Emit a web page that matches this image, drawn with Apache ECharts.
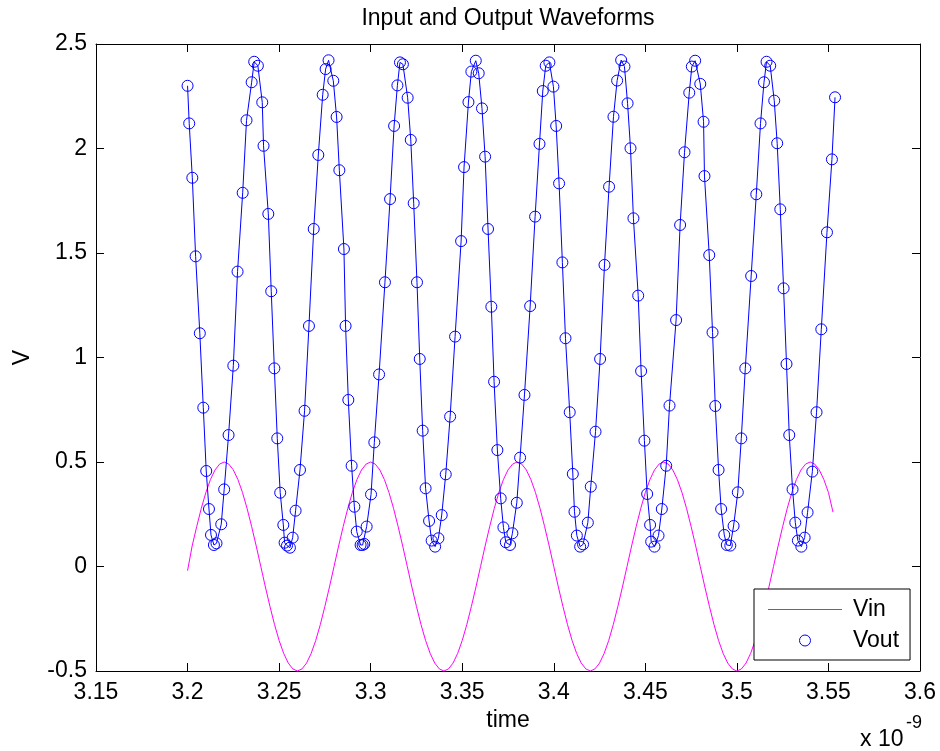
<!DOCTYPE html>
<html>
<head>
<meta charset="utf-8">
<script src="https://cdn.jsdelivr.net/npm/echarts@6/dist/echarts.min.js"></script>
<style>
html,body{margin:0;padding:0;background:#fff;}
#chart{width:940px;height:751px;}
</style>
</head>
<body>
<div id="chart"></div>
<script>
// ---- data (time in units of 1e-9 s, voltages in V) ----
const xTicks = { min: 3.15, max: 3.6, step: 0.05 };
const yTicks = { min: -0.5, max: 2.5, step: 0.5 };

const vinTime = [
  3.2000,3.2025,3.2050,3.2075,3.2100,3.2125,3.2150,3.2175,3.2200,3.2225,3.2250,3.2275,3.2300,3.2325,3.2350,3.2375,
  3.2400,3.2425,3.2450,3.2475,3.2500,3.2525,3.2550,3.2575,3.2600,3.2625,3.2650,3.2675,3.2700,3.2725,3.2750,3.2775,
  3.2800,3.2825,3.2850,3.2875,3.2900,3.2925,3.2950,3.2975,3.3000,3.3025,3.3050,3.3075,3.3100,3.3125,3.3150,3.3175,
  3.3200,3.3225,3.3250,3.3275,3.3300,3.3325,3.3350,3.3375,3.3400,3.3425,3.3450,3.3475,3.3500,3.3525,3.3550,3.3575,
  3.3600,3.3625,3.3650,3.3675,3.3700,3.3725,3.3750,3.3775,3.3800,3.3825,3.3850,3.3875,3.3900,3.3925,3.3950,3.3975,
  3.4000,3.4025,3.4050,3.4075,3.4100,3.4125,3.4150,3.4175,3.4200,3.4225,3.4250,3.4275,3.4300,3.4325,3.4350,3.4375,
  3.4400,3.4425,3.4450,3.4475,3.4500,3.4525,3.4550,3.4575,3.4600,3.4625,3.4650,3.4675,3.4700,3.4725,3.4750,3.4775,
  3.4800,3.4825,3.4850,3.4875,3.4900,3.4925,3.4950,3.4975,3.5000,3.5025,3.5050,3.5075,3.5100,3.5125,3.5150,3.5175,
  3.5200,3.5225,3.5250,3.5275,3.5300,3.5325,3.5350,3.5375,3.5400,3.5425,3.5450,3.5475,3.5500,3.5525
];
const vinValues = [
  -0.02,0.098,0.191,0.278,0.354,0.416,0.462,0.490,0.500,0.490,0.462,0.416,0.354,0.278,0.191,0.098,
  0.000,-0.098,-0.191,-0.278,-0.354,-0.416,-0.462,-0.490,-0.500,-0.490,-0.462,-0.416,-0.354,-0.278,-0.191,-0.098,
  0.000,0.098,0.191,0.278,0.354,0.416,0.462,0.490,0.500,0.490,0.462,0.416,0.354,0.278,0.191,0.098,
  0.000,-0.098,-0.191,-0.278,-0.354,-0.416,-0.462,-0.490,-0.500,-0.490,-0.462,-0.416,-0.354,-0.278,-0.191,-0.098,
  0.000,0.098,0.191,0.278,0.354,0.416,0.462,0.490,0.500,0.490,0.462,0.416,0.354,0.278,0.191,0.098,
  0.000,-0.098,-0.191,-0.278,-0.354,-0.416,-0.462,-0.490,-0.500,-0.490,-0.462,-0.416,-0.354,-0.278,-0.191,-0.098,
  0.000,0.098,0.191,0.278,0.354,0.416,0.462,0.490,0.500,0.490,0.462,0.416,0.354,0.278,0.191,0.098,
  0.000,-0.098,-0.191,-0.278,-0.354,-0.416,-0.462,-0.490,-0.500,-0.490,-0.462,-0.416,-0.354,-0.278,-0.191,-0.098,
  0.000,0.098,0.191,0.278,0.354,0.416,0.462,0.490,0.500,0.490,0.462,0.416,0.354,0.260
];

const voutTime = [
  3.2000,3.2009,3.2026,3.2044,3.2067,3.2086,3.2102,3.2117,3.2128,3.2144,3.2158,3.2184,3.2200,3.2224,3.2250,3.2273,
  3.2301,3.2322,3.2350,3.2364,3.2384,3.2408,3.2415,3.2441,3.2457,3.2474,3.2490,3.2506,3.2523,3.2530,3.2543,3.2559,
  3.2574,3.2590,3.2614,3.2639,3.2663,3.2689,3.2714,3.2738,3.2754,3.2770,3.2796,3.2814,3.2829,3.2854,3.2863,3.2878,
  3.2896,3.2911,3.2924,3.2945,3.2956,3.2965,3.2978,3.3002,3.3020,3.3046,3.3078,3.3106,3.3128,3.3146,3.3160,3.3176,
  3.3202,3.3219,3.3235,3.3253,3.3268,3.3284,3.3300,3.3319,3.3333,3.3352,3.3370,3.3388,3.3410,3.3434,3.3461,3.3494,
  3.3510,3.3534,3.3550,3.3574,3.3590,3.3608,3.3625,3.3641,3.3659,3.3674,3.3692,3.3710,3.3725,3.3738,3.3761,3.3774,
  3.3798,3.3816,3.3840,3.3871,3.3898,3.3922,3.3940,3.3956,3.3976,3.3998,3.4013,3.4029,3.4047,3.4064,3.4087,3.4104,
  3.4113,3.4126,3.4144,3.4160,3.4186,3.4202,3.4228,3.4253,3.4277,3.4302,3.4326,3.4346,3.4368,3.4386,3.4403,3.4419,
  3.4435,3.4461,3.4477,3.4495,3.4510,3.4526,3.4532,3.4550,3.4572,3.4590,3.4614,3.4632,3.4668,3.4690,3.4714,3.4740,
  3.4754,3.4772,3.4800,3.4818,3.4823,3.4849,3.4867,3.4882,3.4900,3.4914,3.4931,3.4945,3.4964,3.4982,3.5005,3.5024,
  3.5046,3.5078,3.5106,3.5129,3.5148,3.5162,3.5182,3.5204,3.5220,3.5237,3.5255,3.5271,3.5286,3.5304,3.5319,3.5333,
  3.5352,3.5370,3.5386,3.5412,3.5435,3.5461,3.5492,3.5519,3.5536
];
const voutValues = [
  2.300,2.120,1.860,1.484,1.116,0.760,0.457,0.275,0.151,0.103,0.111,0.202,0.369,0.629,0.961,1.411,
  1.788,2.135,2.317,2.415,2.396,2.221,2.013,1.687,1.317,0.948,0.613,0.353,0.199,0.114,0.100,0.090,
  0.138,0.267,0.462,0.745,1.151,1.615,1.969,2.257,2.380,2.422,2.324,2.151,1.896,1.519,1.151,0.797,
  0.482,0.286,0.167,0.103,0.103,0.108,0.191,0.345,0.594,0.919,1.360,1.758,2.108,2.302,2.412,2.403,
  2.243,2.041,1.738,1.360,0.993,0.650,0.374,0.218,0.124,0.095,0.135,0.246,0.441,0.717,1.100,1.557,
  1.911,2.222,2.368,2.420,2.360,2.192,1.961,1.615,1.243,0.884,0.557,0.326,0.187,0.116,0.103,0.159,
  0.305,0.521,0.821,1.246,1.674,2.022,2.275,2.396,2.412,2.296,2.108,1.833,1.455,1.092,0.738,0.443,
  0.262,0.148,0.095,0.106,0.210,0.382,0.645,0.993,1.443,1.817,2.152,2.325,2.423,2.392,2.216,2.001,
  1.666,1.296,0.935,0.602,0.347,0.199,0.119,0.095,0.148,0.275,0.482,0.770,1.179,1.634,1.982,2.267,
  2.392,2.420,2.309,2.128,1.868,1.490,1.120,0.768,0.462,0.275,0.151,0.103,0.100,0.194,0.355,0.613,
  0.948,1.390,1.781,2.120,2.317,2.415,2.396,2.229,2.025,1.709,1.331,0.969,0.629,0.369,0.210,0.124,
  0.095,0.138,0.259,0.454,0.738,1.135,1.599,1.948,2.245
];

const titleText = 'Input and Output Waveforms';
const xName = 'time';
const yName = 'V';
const names = ['Vin', 'Vout'];

// ---- chart ----
const FONT = '"Liberation Sans", Arial, Helvetica, sans-serif';
const FS = 23;
const zip = (a, b) => a.map((t, i) => [t, b[i]]);
const fmt = v => String(Math.round(v * 100) / 100);

const axisCommon = {
  type: 'value',
  axisLine: { show: true, onZero: false, lineStyle: { color: '#000', width: 1 } },
  axisTick: { show: true, inside: true, length: 8, lineStyle: { color: '#000', width: 1 } },
  splitLine: { show: false }
};

const chart = echarts.init(document.getElementById('chart'), null, { renderer: 'canvas' });
chart.setOption({
  animation: false,
  backgroundColor: '#fff',
  grid: { left: 96, right: 20, top: 44, bottom: 80, containLabel: false },
  xAxis: [
    Object.assign({}, axisCommon, {
      min: xTicks.min, max: xTicks.max, interval: xTicks.step, position: 'bottom',
      axisLabel: { color: '#000', fontSize: FS, fontFamily: FONT, margin: 10, formatter: fmt },
      name: xName, nameLocation: 'middle', nameGap: 38,
      nameTextStyle: { color: '#000', fontSize: FS, fontFamily: FONT }
    }),
    Object.assign({}, axisCommon, {
      min: xTicks.min, max: xTicks.max, interval: xTicks.step, position: 'top',
      axisLabel: { show: false }
    })
  ],
  yAxis: [
    Object.assign({}, axisCommon, {
      min: yTicks.min, max: yTicks.max, interval: yTicks.step, position: 'left',
      axisLabel: { color: '#000', fontSize: FS, fontFamily: FONT, margin: 9, formatter: fmt },
      name: yName, nameLocation: 'middle', nameGap: 62, nameRotate: 90,
      nameTextStyle: { color: '#000', fontSize: FS, fontFamily: FONT }
    }),
    Object.assign({}, axisCommon, {
      min: yTicks.min, max: yTicks.max, interval: yTicks.step, position: 'right',
      axisLabel: { show: false }
    })
  ],
  legend: {
    orient: 'vertical', left: 754, top: 589,
    padding: [9, 11, 8, 14], itemGap: 8, itemWidth: 74, itemHeight: 11,
    backgroundColor: '#fff', borderColor: '#000', borderWidth: 1, borderRadius: 0,
    selectedMode: false,
    textStyle: { color: '#000', fontSize: FS, fontFamily: FONT, padding: [0, 0, 0, 6] },
    data: [
      { name: names[0], icon: 'path://M0 0H74V1H0Z',
        itemStyle: { color: '#ff00ff', borderWidth: 0 } },
      { name: names[1], icon: 'circle',
        itemStyle: { color: 'rgba(0,0,0,0)', borderColor: '#0000ff', borderWidth: 1 } }
    ]
  },
  graphic: [
    { type: 'text', x: 508, y: 19, style: { text: titleText, align: 'center', verticalAlign: 'middle',
      fontSize: FS, fontFamily: FONT, fill: '#000' } },
    { type: 'text', x: 860, y: 740, style: { text: 'x 10', align: 'left', verticalAlign: 'middle',
      fontSize: FS, fontFamily: FONT, fill: '#000' } },
    { type: 'text', x: 906, y: 723, style: { text: '-9', align: 'left', verticalAlign: 'middle',
      fontSize: 18, fontFamily: FONT, fill: '#000' } }
  ],
  series: [
    {
      name: names[0], type: 'line', xAxisIndex: 0, yAxisIndex: 0,
      data: zip(vinTime, vinValues),
      symbol: 'none', showSymbol: false,
      lineStyle: { color: '#ff00ff', width: 1 },
      itemStyle: { color: '#ff00ff' },
      emphasis: { disabled: true },
      z: 2
    },
    {
      name: names[1], type: 'line', xAxisIndex: 0, yAxisIndex: 0,
      data: zip(voutTime, voutValues),
      symbol: 'circle', symbolSize: 11, showSymbol: true, showAllSymbol: true,
      lineStyle: { color: '#0000ff', width: 1 },
      itemStyle: { color: 'rgba(0,0,0,0)', borderColor: '#0000ff', borderWidth: 1 },
      emphasis: { disabled: true },
      z: 3
    }
  ]
});
</script>
</body>
</html>
